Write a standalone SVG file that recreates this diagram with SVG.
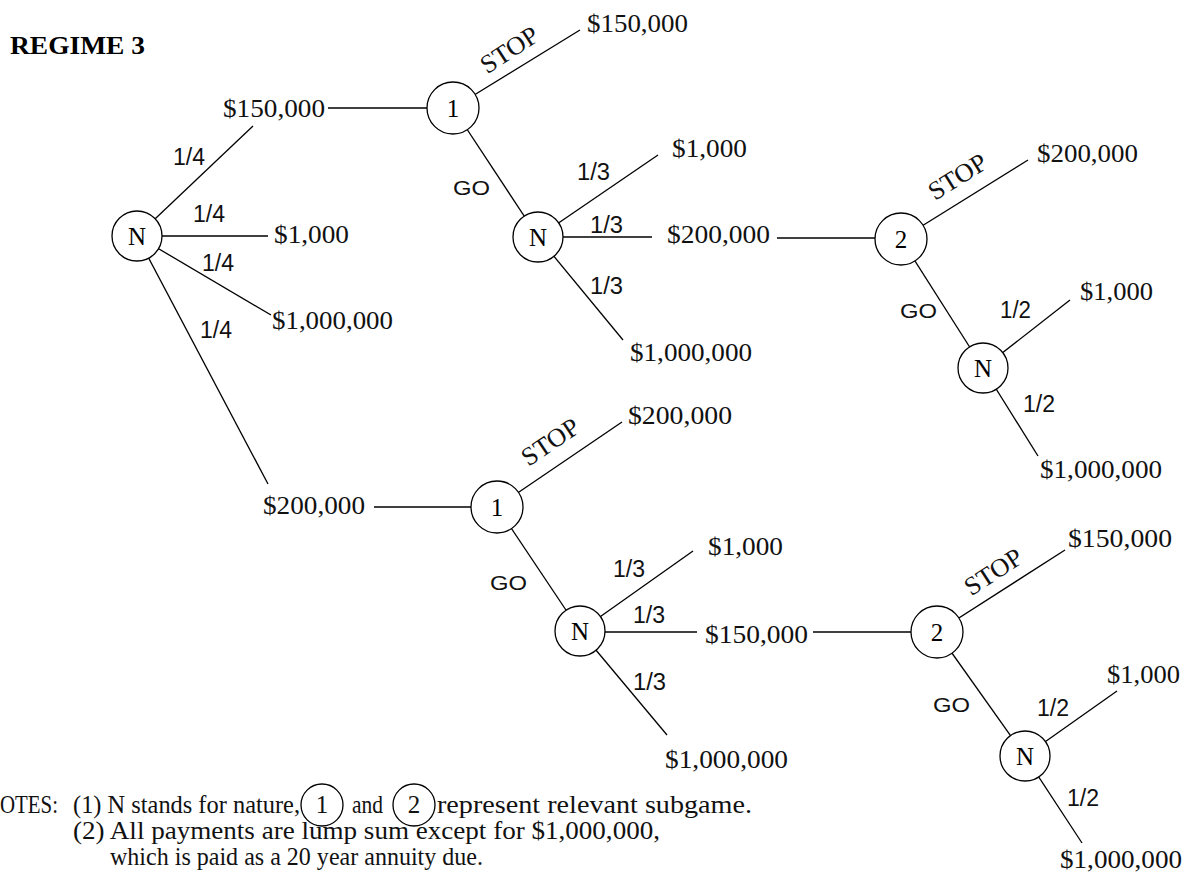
<svg xmlns="http://www.w3.org/2000/svg" width="1193" height="879" viewBox="0 0 1193 879">
<style>
.ln{stroke:#000;stroke-width:1.3;fill:none}
.nd{stroke:#000;stroke-width:1.3;fill:#fff}
.nl{font-family:"Liberation Serif",serif;font-size:25px;fill:#000;text-anchor:middle}
.pay{font-family:"Liberation Serif",serif;font-size:26px;fill:#111}
.pr{font-family:"Liberation Sans",sans-serif;font-size:23px;fill:#111}
.go{font-family:"Liberation Sans",sans-serif;font-size:21px;fill:#111}
.stop{font-family:"Liberation Serif",serif;font-size:26px;fill:#111;text-anchor:middle}
.note{font-family:"Liberation Serif",serif;font-size:25px;fill:#111}
.title{font-family:"Liberation Serif",serif;font-size:26px;font-weight:bold;fill:#000}
</style>
<rect width="1193" height="879" fill="#fff"/>
<text class="title" x="10" y="54" textLength="135" lengthAdjust="spacingAndGlyphs">REGIME 3</text>

<g id="connectors">
<line class="ln" x1="137" y1="236" x2="253" y2="126"/>
<line class="ln" x1="328" y1="108" x2="453" y2="108"/>
<line class="ln" x1="137" y1="236" x2="268" y2="236"/>
<line class="ln" x1="137" y1="236" x2="271" y2="315"/>
<line class="ln" x1="137" y1="236" x2="268" y2="484"/>
<line class="ln" x1="374" y1="507" x2="497" y2="507"/>
<line class="ln" x1="453" y1="108" x2="580" y2="30"/>
<line class="ln" x1="453" y1="108" x2="538" y2="237"/>
<line class="ln" x1="538" y1="237" x2="658" y2="155"/>
<line class="ln" x1="538" y1="237" x2="652" y2="237"/>
<line class="ln" x1="777" y1="238" x2="901" y2="238"/>
<line class="ln" x1="538" y1="237" x2="623" y2="340"/>
<line class="ln" x1="901" y1="239" x2="1028" y2="160"/>
<line class="ln" x1="901" y1="239" x2="983" y2="368"/>
<line class="ln" x1="983" y1="368" x2="1070" y2="300"/>
<line class="ln" x1="983" y1="368" x2="1038" y2="456"/>
<line class="ln" x1="497" y1="507" x2="622" y2="422"/>
<line class="ln" x1="497" y1="507" x2="580" y2="631"/>
<line class="ln" x1="580" y1="631" x2="693" y2="551"/>
<line class="ln" x1="580" y1="632" x2="697" y2="632"/>
<line class="ln" x1="813" y1="632" x2="937" y2="632"/>
<line class="ln" x1="580" y1="631" x2="667" y2="735"/>
<line class="ln" x1="937" y1="632" x2="1065" y2="550"/>
<line class="ln" x1="937" y1="632" x2="1025" y2="756"/>
<line class="ln" x1="1025" y1="756" x2="1117" y2="691"/>
<line class="ln" x1="1025" y1="756" x2="1082" y2="843"/>
</g>

<g id="edge-labels">
<text class="pr" x="173" y="165" textLength="32" lengthAdjust="spacingAndGlyphs">1/4</text>
<text class="pr" x="193" y="222" textLength="32" lengthAdjust="spacingAndGlyphs">1/4</text>
<text class="pr" x="202" y="271" textLength="32" lengthAdjust="spacingAndGlyphs">1/4</text>
<text class="pr" x="200" y="338" textLength="32" lengthAdjust="spacingAndGlyphs">1/4</text>
<text class="pr" x="577" y="180" textLength="33" lengthAdjust="spacingAndGlyphs">1/3</text>
<text class="pr" x="590" y="233" textLength="33" lengthAdjust="spacingAndGlyphs">1/3</text>
<text class="pr" x="590" y="294" textLength="33" lengthAdjust="spacingAndGlyphs">1/3</text>
<text class="pr" x="1000" y="318" textLength="31" lengthAdjust="spacingAndGlyphs">1/2</text>
<text class="pr" x="1023" y="412" textLength="32" lengthAdjust="spacingAndGlyphs">1/2</text>
<text class="pr" x="613" y="577" textLength="32" lengthAdjust="spacingAndGlyphs">1/3</text>
<text class="pr" x="633" y="623" textLength="32" lengthAdjust="spacingAndGlyphs">1/3</text>
<text class="pr" x="633" y="690" textLength="33" lengthAdjust="spacingAndGlyphs">1/3</text>
<text class="pr" x="1037" y="716" textLength="32" lengthAdjust="spacingAndGlyphs">1/2</text>
<text class="pr" x="1067" y="806" textLength="32" lengthAdjust="spacingAndGlyphs">1/2</text>
<text class="go" x="453" y="195" textLength="37" lengthAdjust="spacingAndGlyphs">GO</text>
<text class="go" x="900" y="318" textLength="37" lengthAdjust="spacingAndGlyphs">GO</text>
<text class="go" x="490" y="590" textLength="37" lengthAdjust="spacingAndGlyphs">GO</text>
<text class="go" x="933" y="712" textLength="37" lengthAdjust="spacingAndGlyphs">GO</text>
<text class="stop" transform="translate(514,57) rotate(-33)" textLength="64" lengthAdjust="spacingAndGlyphs">STOP</text>
<text class="stop" transform="translate(962,184) rotate(-32)" textLength="64" lengthAdjust="spacingAndGlyphs">STOP</text>
<text class="stop" transform="translate(555,449) rotate(-34)" textLength="64" lengthAdjust="spacingAndGlyphs">STOP</text>
<text class="stop" transform="translate(998,579) rotate(-33)" textLength="64" lengthAdjust="spacingAndGlyphs">STOP</text>
</g>

<g id="payoffs">
<text class="pay" x="223" y="117" textLength="102" lengthAdjust="spacingAndGlyphs">$150,000</text>
<text class="pay" x="274" y="243" textLength="75" lengthAdjust="spacingAndGlyphs">$1,000</text>
<text class="pay" x="272" y="329" textLength="121" lengthAdjust="spacingAndGlyphs">$1,000,000</text>
<text class="pay" x="263" y="514" textLength="102" lengthAdjust="spacingAndGlyphs">$200,000</text>
<text class="pay" x="587" y="32" textLength="101" lengthAdjust="spacingAndGlyphs">$150,000</text>
<text class="pay" x="672" y="157" textLength="75" lengthAdjust="spacingAndGlyphs">$1,000</text>
<text class="pay" x="667" y="243" textLength="103" lengthAdjust="spacingAndGlyphs">$200,000</text>
<text class="pay" x="630" y="361" textLength="122" lengthAdjust="spacingAndGlyphs">$1,000,000</text>
<text class="pay" x="1037" y="162" textLength="101" lengthAdjust="spacingAndGlyphs">$200,000</text>
<text class="pay" x="1080" y="300" textLength="73" lengthAdjust="spacingAndGlyphs">$1,000</text>
<text class="pay" x="1040" y="478" textLength="122" lengthAdjust="spacingAndGlyphs">$1,000,000</text>
<text class="pay" x="628" y="424" textLength="104" lengthAdjust="spacingAndGlyphs">$200,000</text>
<text class="pay" x="708" y="555" textLength="75" lengthAdjust="spacingAndGlyphs">$1,000</text>
<text class="pay" x="705" y="643" textLength="103" lengthAdjust="spacingAndGlyphs">$150,000</text>
<text class="pay" x="665" y="768" textLength="123" lengthAdjust="spacingAndGlyphs">$1,000,000</text>
<text class="pay" x="1068" y="547" textLength="104" lengthAdjust="spacingAndGlyphs">$150,000</text>
<text class="pay" x="1107" y="683" textLength="73" lengthAdjust="spacingAndGlyphs">$1,000</text>
<text class="pay" x="1060" y="868" textLength="122" lengthAdjust="spacingAndGlyphs">$1,000,000</text>
</g>

<g id="node-root"><circle class="nd" cx="137" cy="236" r="25"/><text class="nl" x="137" y="245">N</text></g>
<g id="node-p1-top"><circle class="nd" cx="453" cy="108" r="26"/><text class="nl" x="453" y="117">1</text></g>
<g id="node-n-top"><circle class="nd" cx="538" cy="237" r="25"/><text class="nl" x="538" y="246">N</text></g>
<g id="node-p2-top"><circle class="nd" cx="901" cy="239" r="26"/><text class="nl" x="901" y="248">2</text></g>
<g id="node-n2-top"><circle class="nd" cx="983" cy="368" r="25"/><text class="nl" x="983" y="377">N</text></g>
<g id="node-p1-bottom"><circle class="nd" cx="497" cy="507" r="26"/><text class="nl" x="497" y="516">1</text></g>
<g id="node-n-bottom"><circle class="nd" cx="580" cy="631" r="25"/><text class="nl" x="580" y="640">N</text></g>
<g id="node-p2-bottom"><circle class="nd" cx="937" cy="632" r="26"/><text class="nl" x="937" y="641">2</text></g>
<g id="node-n2-bottom"><circle class="nd" cx="1025" cy="756" r="25"/><text class="nl" x="1025" y="765">N</text></g>

<g id="notes">
<text class="note" x="0" y="813" textLength="58" lengthAdjust="spacingAndGlyphs">OTES:</text>
<text class="note" x="73" y="813" textLength="227" lengthAdjust="spacingAndGlyphs">(1) N stands for nature,</text>
<circle class="ln" cx="322" cy="805" r="21"/>
<text class="note" x="322" y="813" text-anchor="middle">1</text>
<text class="note" x="352" y="813" textLength="31" lengthAdjust="spacingAndGlyphs">and</text>
<circle class="ln" cx="414" cy="805" r="21"/>
<text class="note" x="414" y="813" text-anchor="middle">2</text>
<text class="note" x="437" y="813" textLength="315" lengthAdjust="spacingAndGlyphs">represent relevant subgame.</text>
<text class="note" x="73" y="839" textLength="587" lengthAdjust="spacingAndGlyphs">(2) All payments are lump sum except for $1,000,000,</text>
<text class="note" x="110" y="865" textLength="373" lengthAdjust="spacingAndGlyphs">which is paid as a 20 year annuity due.</text>
</g>
</svg>
